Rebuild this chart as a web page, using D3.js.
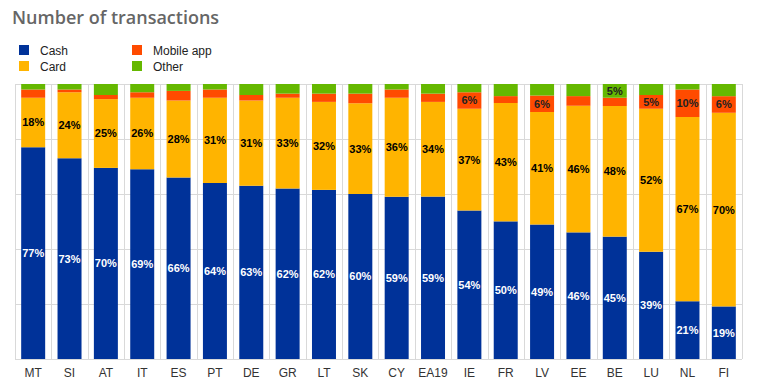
<!DOCTYPE html>
<html>
<head>
<meta charset="utf-8">
<script src="https://cdnjs.cloudflare.com/ajax/libs/d3/7.8.5/d3.min.js"></script>
<style>
    body { margin: 0; background: #fff; }
    #chart text { font-family: Arial, "Liberation Sans", sans-serif; }
</style>
</head>
<body>
<div id="chart"></div>
<script>
const countries = ["MT", "SI", "AT", "IT", "ES", "PT", "DE", "GR", "LT", "SK", "CY", "EA19", "IE", "FR", "LV", "EE", "BE", "LU", "NL", "FI"];
const cash   = [77, 73, 69.5, 69, 66, 64, 63, 62, 61.5, 60, 59, 59, 54, 50, 49, 46, 44.5, 39, 21, 19];
const card   = [18, 24, 25, 26, 28, 31, 31, 33, 32, 33, 36, 34.4, 37, 43, 41, 46, 47.5, 52, 67, 70];
const mobile = [3, 1, 1.5, 2, 3.5, 3, 2, 1.5, 3, 3.5, 3, 3, 6, 2.5, 6, 3.5, 3, 5, 10, 6];
const other  = [2, 2, 4, 3, 2.5, 2, 4, 3.5, 3.5, 3.5, 2, 3.5, 3, 4.4, 4.2, 4.4, 5, 4, 2, 4.4];
const yTicks = [0, 0.2, 0.4, 0.6, 0.8, 1];

const seriesNames = ["Cash", "Card", "Mobile app", "Other"];
const colors = ["#003299", "#ffb400", "#ff4b00", "#65b800"];
const labelColors = ["#fff", "#000", "#222", "#222"];

document.addEventListener('DOMContentLoaded', function() {
    const width = 762, height = 392;
    const left = 15, right = 742, top = 84, bottom = 359;

    const rows = countries.map((c, i) => ({
        country: c, "Cash": cash[i], "Card": card[i], "Mobile app": mobile[i], "Other": other[i]
    }));

    const stacked = d3.stack()
        .keys(seriesNames)
        .offset(d3.stackOffsetExpand)(rows);

    const x = d3.scaleBand()
        .domain(countries)
        .range([left, right])
        .paddingInner(0.34)
        .paddingOuter(0.17);

    const y = d3.scaleLinear()
        .domain([0, 1])
        .range([bottom, top]);

    const svg = d3.select("#chart").append("svg")
        .attr("width", width)
        .attr("height", height);

    // title
    svg.append("text")
        .attr("x", 12)
        .attr("y", 24)
        .attr("font-size", 18)
        .attr("font-weight", 600)
        .attr("fill", "#666")
        .style("font-family", "'Open Sans', sans-serif")
        .text("Number of transactions");

    // legend, two columns
    const legend = svg.append("g").selectAll("g")
        .data(seriesNames)
        .enter().append("g")
        .attr("transform", (d, i) => `translate(${i < 2 ? 19 : 132},${45 + (i % 2) * 16})`);
    legend.append("rect")
        .attr("width", 10).attr("height", 10)
        .attr("fill", (d, i) => colors[i]);
    legend.append("text")
        .attr("x", 21).attr("y", 9.5)
        .attr("font-size", 12)
        .attr("fill", "#222")
        .text(d => d);

    // grid
    const grid = svg.append("g").attr("stroke", "#d9d9d9").attr("stroke-width", 1);
    grid.selectAll("line.h")
        .data(yTicks)
        .enter().append("line")
        .attr("class", "h")
        .attr("x1", left).attr("x2", right)
        .attr("y1", d => Math.round(y(d)) + 0.5)
        .attr("y2", d => Math.round(y(d)) + 0.5);
    const bounds = countries.map(c => x(c) - x.step() * x.paddingInner() / 2).concat([right]);
    grid.selectAll("line.v")
        .data(bounds)
        .enter().append("line")
        .attr("class", "v")
        .attr("x1", d => Math.round(d) + 0.5).attr("x2", d => Math.round(d) + 0.5)
        .attr("y1", top).attr("y2", bottom);

    // bars
    const layer = svg.append("g").selectAll("g")
        .data(stacked)
        .enter().append("g")
        .attr("fill", (d, i) => colors[i]);
    layer.selectAll("rect")
        .data(d => d)
        .enter().append("rect")
        .attr("x", d => x(d.data.country))
        .attr("width", x.bandwidth())
        .attr("y", d => y(d[1]))
        .attr("height", d => y(d[0]) - y(d[1]));

    // value labels
    const labels = svg.append("g");
    stacked.forEach((s, si) => {
        labels.selectAll(null)
            .data(s.filter(d => Math.round(d.data[s.key]) >= 5))
            .enter().append("text")
            .attr("x", d => x(d.data.country) + x.bandwidth() / 2)
            .attr("y", d => (y(d[0]) + y(d[1])) / 2)
            .attr("dy", "0.36em")
            .attr("text-anchor", "middle")
            .attr("font-size", 11)
            .attr("font-weight", "bold")
            .attr("fill", labelColors[si])
            .text(d => Math.round(d.data[s.key]) + "%");
    });

    // x axis labels
    const xAxis = svg.append("g")
        .attr("transform", `translate(0,${bottom})`)
        .call(d3.axisBottom(x).tickSize(0).tickPadding(9));
    xAxis.select(".domain").remove();
    xAxis.selectAll("text")
        .attr("font-size", 12)
        .attr("fill", "#333")
        .style("font-family", "Arial, 'Liberation Sans', sans-serif");
});
</script>
</body>
</html>
